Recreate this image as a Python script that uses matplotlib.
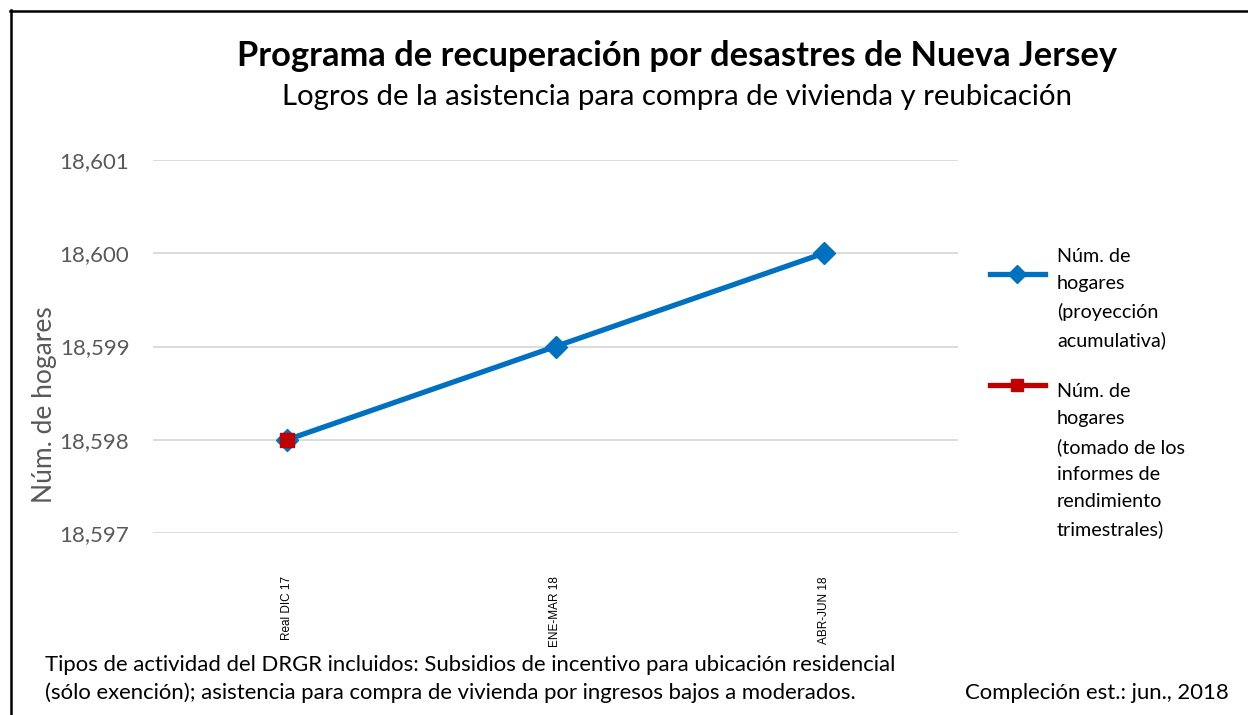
import matplotlib
matplotlib.use("Agg")
import matplotlib.pyplot as plt
from matplotlib.lines import Line2D

categories = ["Real DIC 17", "ENE-MAR 18", "ABR-JUN 18"]
proyeccion = [18598, 18599, 18600]
informes = [18598]
yticks = [18597, 18598, 18599, 18600, 18601]

title = "Programa de recuperación por desastres de Nueva Jersey"
subtitle = "Logros de la asistencia para compra de vivienda y reubicación"
ylabel = "Núm. de hogares"
leg1 = "Núm. de\nhogares\n(proyección\nacumulativa)"
leg2 = "Núm. de\nhogares\n(tomado de los\ninformes de\nrendimiento\ntrimestrales)"
note = ("Tipos de actividad del DRGR incluidos: Subsidios de incentivo para ubicación residencial\n"
        "(sólo exención); asistencia para compra de vivienda por ingresos bajos a moderados.")
completion = "Compleción est.: jun., 2018"

BLUE = "#0070C0"
RED = "#C00000"
FONT = ["Lato", "DejaVu Sans"]
plt.rcParams["font.family"] = FONT

W, H = 1248, 715
fig = plt.figure(figsize=(W / 100, H / 100), dpi=100)

def fx(px):
    return px / W

def fy(py):
    return 1 - py / H

ax = fig.add_axes([fx(153), fy(533), fx(958) - fx(153), fy(160) - fy(533)])
x = list(range(len(categories)))
ax.plot(x, proyeccion, color=BLUE, lw=3.8, marker="D", ms=11, mfc=BLUE, mec=BLUE, zorder=3)
ax.plot(x[:len(informes)], informes, color=RED, lw=3.8, marker="s", ms=10.5, mfc=RED, mec=RED, zorder=4)
ax.set_xlim(-0.5, len(categories) - 0.5)
ax.set_ylim(yticks[0], yticks[-1])
ax.set_yticks(yticks)
ax.set_yticklabels([f"{v:,}" for v in yticks], fontsize=16, color="#595959")
ax.set_xticks(x)
ax.set_xticklabels(categories, rotation=90, fontsize=8.5, family=["Liberation Sans Narrow", "Liberation Sans"], color="black")
ax.tick_params(axis="both", length=0)
ax.tick_params(axis="y", pad=17)
ax.tick_params(axis="x", pad=31)
ax.grid(axis="y", color="#D9D9D9", lw=1.3)
for s in ax.spines.values():
    s.set_visible(False)
ax.set_axisbelow(True)
ax.patch.set_alpha(0)

fig.text(fx(45), fy(405), ylabel, rotation=90, ha="center", va="center", fontsize=19, color="#595959")
fig.text(fx(677), fy(56), title, ha="center", va="center", fontsize=24.8, fontweight="bold")
fig.text(fx(677), fy(97), subtitle, ha="center", va="center", fontsize=21.2)

# legend
fig.add_artist(Line2D([fx(990), fx(1045)], [fy(274), fy(274)], color=BLUE, lw=3.8,
                      transform=fig.transFigure))
fig.add_artist(Line2D([fx(1017)], [fy(274)], color=BLUE, marker="D", ms=9, transform=fig.transFigure))
fig.add_artist(Line2D([fx(990), fx(1045)], [fy(385), fy(385)], color=RED, lw=3.8,
                      transform=fig.transFigure))
fig.add_artist(Line2D([fx(1017)], [fy(385)], color=RED, marker="s", ms=9, transform=fig.transFigure))
fig.text(fx(1057), fy(248), leg1, ha="left", va="top", fontsize=14.2, linespacing=1.72)
fig.text(fx(1057), fy(383), leg2, ha="left", va="top", fontsize=14.2, linespacing=1.72)

fig.text(fx(45), fy(679), note, ha="left", va="center", fontsize=15.9, linespacing=1.42)
fig.text(fx(965), fy(693), completion, ha="left", va="center", fontsize=15.9)

# frame
fig.add_artist(Line2D([fx(10), 1], [fy(10.5), fy(10.5)], color="black", lw=1.8, transform=fig.transFigure))
fig.add_artist(Line2D([fx(10.5), fx(10.5)], [fy(10), 0], color="black", lw=1.8, transform=fig.transFigure))

fig.savefig("out.png", dpi=100)
